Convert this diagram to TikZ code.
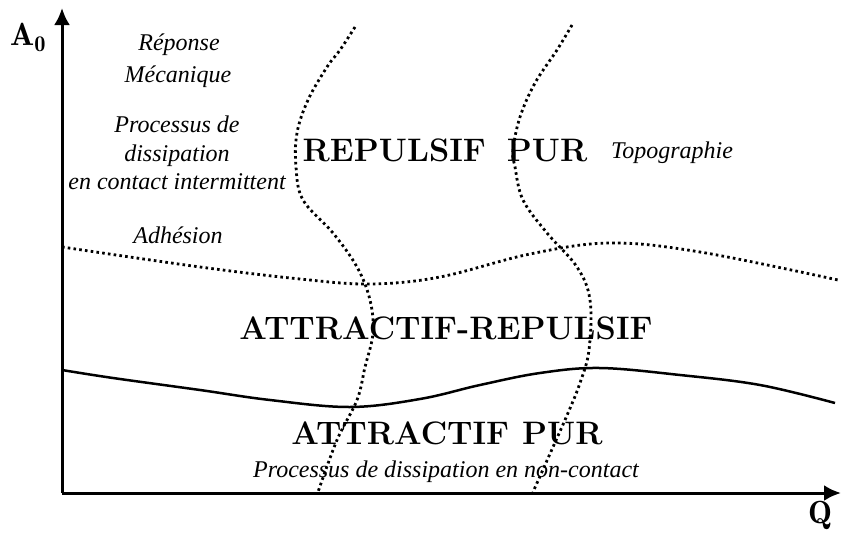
\documentclass[tikz,border=0pt]{standalone}
\usepackage{fontspec}
\newfontfamily\timit{Liberation Serif Italic}
\usetikzlibrary{arrows.meta}
\begin{document}
\begin{tikzpicture}[x=1pt,y=-1pt,
  axis/.style={line width=3pt,-{Latex[length=17pt,width=16pt]}},
  dotline/.style={line width=2.8pt,dash pattern=on 2.6pt off 3.2pt},
  bound/.style={line width=2.5pt},
  itlabel/.style={font=\timit\fontsize{24}{28.5}\selectfont,inner sep=0pt,align=center},
  region/.style={font=\fontsize{32.5}{34}\selectfont\bfseries,inner sep=0pt},
  axlabel/.style={font=\fontsize{32}{33}\selectfont,inner sep=0pt}]
\useasboundingbox (0,0) rectangle (841,536);
\coordinate (O) at (62,493);
\coordinate (ytop) at (62,8);
\coordinate (xend) at (841,493);
\draw[axis] (O) -- (ytop);
\draw[axis] (O) -- (xend);
\node[axlabel,anchor=base west] (A0) at (10,45) {$\mathbf{A_0}$};
\node[axlabel,anchor=base] (Q) at (820,523) {$\mathbf{Q}$};
% Adhesion boundary
\draw[dotline] plot[smooth,tension=0.6] coordinates {(62,247) (200,267) (300,279) (370,284) (440,277) (530,254) (610,243) (700,252) (838,280)};
% attractive / repulsive boundary
\draw[bound] plot[smooth,tension=0.6] coordinates {(62,370) (113,378) (200,390) (270,400) (350,407) (420,399) (480,385) (540,373) (600,368) (680,375) (760,385) (835,403)};
% left vertical dotted
\draw[dotline] plot[smooth,tension=0.6] coordinates {(355,27) (340,50) (327,67) (308,100) (297,133) (296,167) (303,200) (333,233) (357,267) (370,300) (373,333) (365,367) (357,400) (337,440) (318,492)};
% right vertical dotted
\draw[dotline] plot[smooth,tension=0.6] coordinates {(572,25) (557,50) (535,83) (520,117) (513,150) (515,167) (523,200) (547,233) (577,267) (590,300) (589,350) (580,383) (568,413) (553,447) (533,492)};
% labels
\node[itlabel] (rep) at (179,45) {Réponse};
\node[itlabel] (mec) at (178,77) {Mécanique};
\node[itlabel] (proc) at (177,153) {Processus de\\dissipation\\en contact intermittent};
\node[itlabel] (adh) at (178,235) {Adhésion};
\node[itlabel] (topo) at (672,153) {Topographie};
\node[region] (rp) at (445,150) {REPULSIF\hspace{21pt}PUR};
\node[region] (ar) at (446,328) {ATTRACTIF-REPULSIF};
\node[region] (ap) at (447,433) {ATTRACTIF\hspace{13pt}PUR};
\node[itlabel] (nc) at (446,472) {Processus de dissipation en non-contact};
\end{tikzpicture}
\end{document}
